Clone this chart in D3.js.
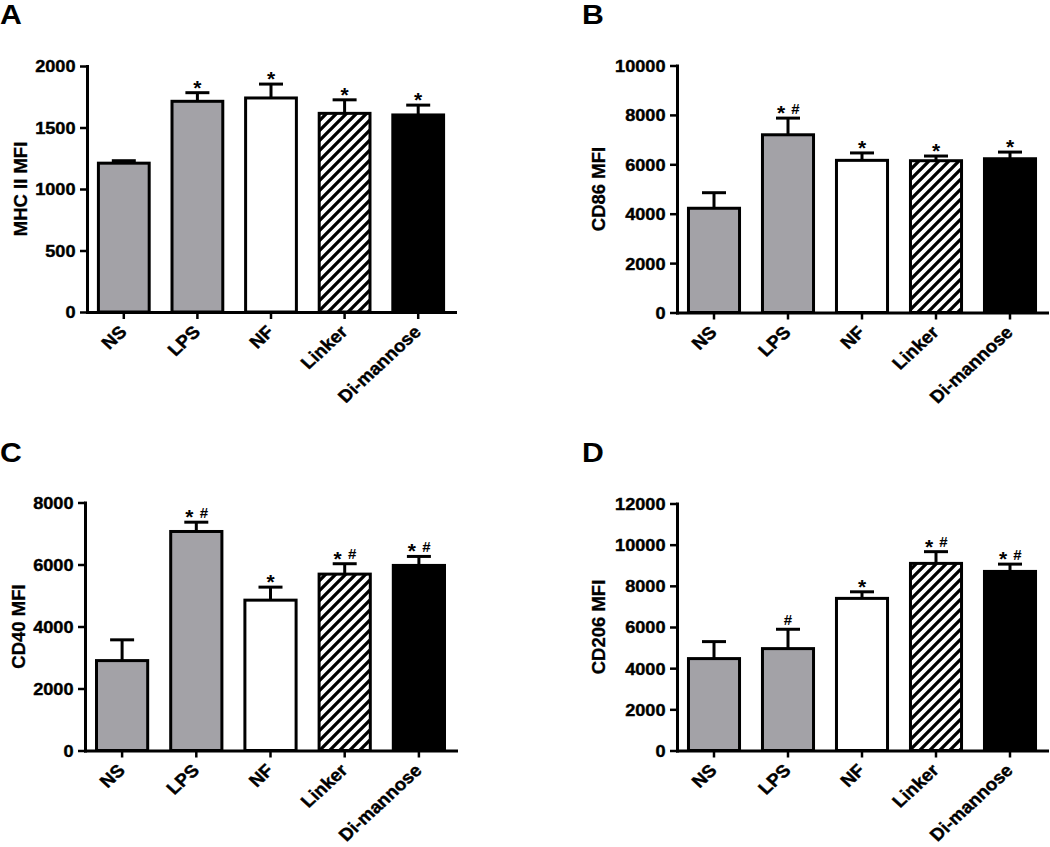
<!DOCTYPE html>
<html>
<head>
<meta charset="utf-8">
<script src="https://cdn.jsdelivr.net/npm/d3@7"></script>
<style>
  html, body { margin: 0; padding: 0; background: #fff; }
  svg text { font-family: "Liberation Sans", Arial, Helvetica, sans-serif; font-weight: bold; fill: #000; }
</style>
</head>
<body>
<svg id="chart" width="1050" height="847"></svg>
<script>
// ---------------- data ----------------
const categories = ["NS", "LPS", "NF", "Linker", "Di-mannose"];
const fillTypes  = ["grey", "grey", "white", "hatch", "black"];

const mhcValues  = [1210, 1713, 1740, 1615, 1602];
const mhcErrors  = [20, 70, 113, 110, 80];
const mhcSig     = ["", "*", "*", "*", "*"];
const mhcTicks   = [0, 500, 1000, 1500, 2000];

const cd86Values = [4220, 7195, 6160, 6145, 6225];
const cd86Errors = [630, 675, 300, 190, 270];
const cd86Sig    = ["", "*#", "*", "*", "*"];
const cd86Ticks  = [0, 2000, 4000, 6000, 8000, 10000];

const cd40Values = [2900, 7065, 4850, 5690, 5970];
const cd40Errors = [670, 300, 420, 335, 290];
const cd40Sig    = ["", "*#", "*", "*#", "*#"];
const cd40Ticks  = [0, 2000, 4000, 6000, 8000];

const cd206Values = [4465, 4950, 7390, 9090, 8700];
const cd206Errors = [825, 940, 320, 570, 355];
const cd206Sig    = ["", "#", "*", "*#", "*#"];
const cd206Ticks  = [0, 2000, 4000, 6000, 8000, 10000, 12000];

const panelLetters = ["A", "B", "C", "D"];
const axisTitles   = ["MHC II MFI", "CD86 MFI", "CD40 MFI", "CD206 MFI"];

// ---------------- layout ----------------
const layouts = [
  { x0: 87,  x1: 455,  yBottom: 312, yTop: 66,  titleOff: 60, letterX: 0,   letterY: 23.5 },
  { x0: 677, x1: 1047, yBottom: 312.5, yTop: 65.5, titleOff: 72, letterX: 582, letterY: 23.5 },
  { x0: 85,  x1: 456,  yBottom: 750.5, yTop: 502.5, titleOff: 60, letterX: 0,   letterY: 462 },
  { x0: 677, x1: 1047, yBottom: 750.5, yTop: 503.5, titleOff: 72, letterX: 582, letterY: 462 }
];
const seriesList = [
  { values: mhcValues,  errors: mhcErrors,  sig: mhcSig,  ticks: mhcTicks },
  { values: cd86Values, errors: cd86Errors, sig: cd86Sig, ticks: cd86Ticks },
  { values: cd40Values, errors: cd40Errors, sig: cd40Sig, ticks: cd40Ticks },
  { values: cd206Values, errors: cd206Errors, sig: cd206Sig, ticks: cd206Ticks }
];

const GREY = "#a3a2a7";
const svg = d3.select("#chart");

// hatch pattern
const defs = svg.append("defs");
const pat = defs.append("pattern")
  .attr("id", "hatch").attr("patternUnits", "userSpaceOnUse")
  .attr("width", 10).attr("height", 10);
pat.append("rect").attr("width", 10).attr("height", 10).attr("fill", "#fff");
pat.append("path")
  .attr("d", "M-2.5,2.5 L2.5,-2.5 M0,10 L10,0 M7.5,12.5 L12.5,7.5")
  .attr("stroke", "#000").attr("stroke-width", 3.3);

function fillFor(t) {
  if (t === "grey") return GREY;
  if (t === "white") return "#fff";
  if (t === "black") return "#000";
  return "url(#hatch)";
}

seriesList.forEach((s, i) => {
  const L = layouts[i];
  const g = svg.append("g");
  const x = d3.scaleBand().domain(categories).range([L.x0, L.x1])
    .paddingInner(0.31).paddingOuter(0.155);
  const y = d3.scaleLinear().domain([0, d3.max(s.ticks)]).range([L.yBottom, L.yTop]);

  const data = categories.map((c, k) => ({ c, v: s.values[k], e: s.errors[k], sig: s.sig[k], f: fillTypes[k] }));

  // error bars (upper only)
  const eb = g.append("g").attr("stroke", "#000").attr("stroke-width", 3).attr("fill", "none");
  data.forEach(d => {
    const cx = x(d.c) + x.bandwidth() / 2;
    eb.append("line").attr("x1", cx).attr("x2", cx).attr("y1", y(d.v)).attr("y2", y(d.v + d.e));
    eb.append("line").attr("x1", cx - 12).attr("x2", cx + 12).attr("y1", y(d.v + d.e)).attr("y2", y(d.v + d.e));
  });

  // bars
  g.append("g").selectAll("rect").data(data).join("rect")
    .attr("x", d => x(d.c))
    .attr("width", x.bandwidth())
    .attr("y", d => y(d.v))
    .attr("height", d => y(0) - y(d.v))
    .attr("fill", d => fillFor(d.f))
    .attr("stroke", "#000").attr("stroke-width", 3);

  // significance marks
  data.forEach(d => {
    if (!d.sig) return;
    const cx = x(d.c) + x.bandwidth() / 2;
    const capY = y(d.v + d.e);
    const hasStar = d.sig.includes("*"), hasHash = d.sig.includes("#");
    const both = hasStar && hasHash;
    if (hasStar) {
      g.append("text").attr("x", both ? cx - 7 : cx).attr("y", capY + 2)
        .attr("text-anchor", "middle").style("font-size", "21px").text("*");
    }
    if (hasHash) {
      g.append("text").attr("x", both ? cx + 7.5 : cx).attr("y", capY - 4.5)
        .attr("text-anchor", "middle").style("font-size", "15px").text("#");
    }
  });

  // y axis
  const ya = g.append("g").attr("transform", `translate(${L.x0},0)`)
    .call(d3.axisLeft(y).tickValues(s.ticks).tickFormat(d3.format("d")).tickSize(7).tickSizeOuter(0));
  ya.select(".domain").attr("stroke-width", 3).attr("stroke-linecap", "square");
  ya.selectAll(".tick line").attr("stroke-width", 2.5);
  ya.selectAll(".tick text")
    .attr("x", 0).attr("dy", "0.36em")
    .attr("transform", "translate(-11.5,0) scale(1.1,1)")
    .attr("stroke", "#000").attr("stroke-width", 0.4)
    .style("font-size", "16.5px");

  // x axis
  const xa = g.append("g").attr("transform", `translate(0,${L.yBottom})`)
    .call(d3.axisBottom(x).tickSize(7).tickSizeOuter(0));
  xa.select(".domain").attr("stroke-width", 3).attr("stroke-linecap", "square");
  xa.selectAll(".tick line").attr("stroke-width", 2.5);
  xa.selectAll(".tick text")
    .attr("x", 0).attr("y", 0).attr("dy", 0)
    .attr("text-anchor", "end")
    .attr("transform", "translate(4,21) scale(1.08,1) rotate(-45)")
    .attr("stroke", "#000").attr("stroke-width", 0.4)
    .style("font-size", "17.5px");

  // axis title
  g.append("text")
    .attr("transform", `translate(${L.x0 - L.titleOff},${(L.yBottom + L.yTop) / 2}) rotate(-90)`)
    .attr("text-anchor", "middle")
    .attr("stroke", "#000").attr("stroke-width", 0.3)
    .style("font-size", "18.5px")
    .text(axisTitles[i]);

  // panel letter
  g.append("text")
    .attr("transform", `translate(${L.letterX},${L.letterY}) scale(1.12,1)`)
    .style("font-size", "27px")
    .text(panelLetters[i]);
});
</script>
</body>
</html>
